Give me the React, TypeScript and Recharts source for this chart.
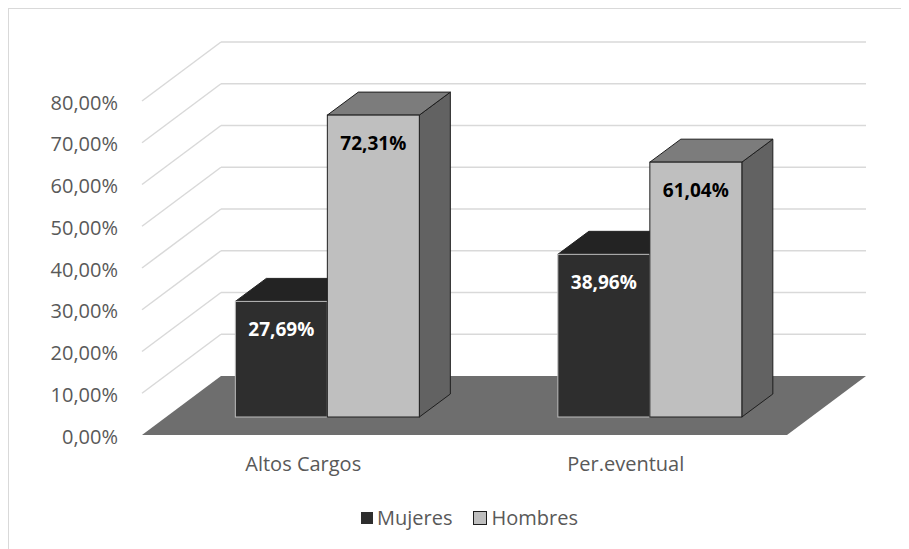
import { BarChart, Bar, XAxis, YAxis, CartesianGrid, Legend, LabelList } from 'recharts'

const CATEGORIES = ['Altos Cargos', 'Per.eventual']
const MUJERES = [27.69, 38.96]
const HOMBRES = [72.31, 61.04]
const Y_TICKS = [0, 10, 20, 30, 40, 50, 60, 70, 80]

const data = CATEGORIES.map((name, i) => ({ name, mujeres: MUJERES[i], hombres: HOMBRES[i] }))

const W = 909
const H = 549
const MARGIN = { top: 83, right: 98, left: 106, bottom: 102 }
const XAXIS_H = 30
const PLOT_BOTTOM = H - MARGIN.bottom - XAXIS_H

// depth offsets relative to the plane of the bar fronts
const FRONT = { dx: -24, dy: 18 }
const BACK = { dx: 55, dy: -41 }
const BAR_DEPTH = { dx: 31, dy: -23 }

const FONT = '"Open Sans", "DejaVu Sans", sans-serif'
const TEXT = '#595959'
const GRID = '#d9d9d9'

const fmt = (v: number) => `${v.toFixed(2).replace('.', ',')}%`

const SERIES = {
  mujeres: { front: '#2e2e2e', top: '#232323', side: '#1f1f1f', stroke: '#bdbdbd', label: '#ffffff' },
  hombres: { front: '#bfbfbf', top: '#7c7c7c', side: '#626262', stroke: '#1e1e1e', label: '#000000' },
}

function box(colors: typeof SERIES.mujeres) {
  return (props: any) => {
    const { x, y, width: w, height: h } = props
    const { dx, dy } = BAR_DEPTH
    const light = colors.stroke === '#bdbdbd'
    return (
      <g>
        <polygon
          points={`${x + w},${y} ${x + w + dx},${y + dy} ${x + w + dx},${y + h + dy} ${x + w},${y + h}`}
          fill={colors.side}
          stroke={light ? colors.side : colors.stroke}
          strokeWidth={1}
        />
        <polygon
          points={`${x},${y} ${x + dx},${y + dy} ${x + w + dx},${y + dy} ${x + w},${y}`}
          fill={colors.top}
          stroke={light ? colors.top : colors.stroke}
          strokeWidth={1}
        />
        <rect x={x} y={y} width={w} height={h} fill={colors.front} stroke={colors.stroke} strokeWidth={1} />
      </g>
    )
  }
}

function gridLine(props: any) {
  const { x1, x2, y1, index } = props
  if (Math.abs(y1 - PLOT_BOTTOM) < 1) {
    return (
      <polygon
        key={`floor-${index}`}
        points={`${x1 + FRONT.dx},${y1 + FRONT.dy} ${x2 + FRONT.dx},${y1 + FRONT.dy} ${x2 + BACK.dx},${y1 + BACK.dy} ${x1 + BACK.dx},${y1 + BACK.dy}`}
        fill="#6e6e6e"
      />
    )
  }
  return (
    <g key={`grid-${index}`}>
      <line x1={x1 + FRONT.dx} y1={y1 + FRONT.dy} x2={x1 + BACK.dx} y2={y1 + BACK.dy} stroke={GRID} strokeWidth={1.5} />
      <line x1={x1 + BACK.dx} y1={y1 + BACK.dy} x2={x2 + BACK.dx} y2={y1 + BACK.dy} stroke={GRID} strokeWidth={1.5} />
    </g>
  )
}

function YTick(props: any) {
  const { y, payload } = props
  return (
    <text
      x={MARGIN.left + 60 + FRONT.dx - 24}
      y={y + FRONT.dy + 1}
      textAnchor="end"
      dominantBaseline="central"
      fill={TEXT}
      fontSize={20}
      fontFamily={FONT}
    >
      {fmt(payload.value)}
    </text>
  )
}

function XTick(props: any) {
  const { x, payload } = props
  return (
    <text
      x={x + FRONT.dx}
      y={PLOT_BOTTOM + 46}
      textAnchor="middle"
      dominantBaseline="central"
      fill={TEXT}
      fontSize={20}
      fontFamily={FONT}
    >
      {payload.value}
    </text>
  )
}

function valueLabel(color: string) {
  return (props: any) => {
    const { x, y, width, value } = props
    return (
      <text
        x={x + width / 2}
        y={y + 28}
        textAnchor="middle"
        dominantBaseline="central"
        fill={color}
        fontSize={19}
        fontWeight="bold"
        fontFamily={FONT}
      >
        {fmt(value)}
      </text>
    )
  }
}

function LegendContent() {
  const items = [
    { name: 'Mujeres', fill: SERIES.mujeres.front, stroke: SERIES.mujeres.front, size: 12 },
    { name: 'Hombres', fill: SERIES.hombres.front, stroke: '#1e1e1e', size: 14 },
  ]
  return (
    <div style={{ display: 'flex', alignItems: 'center', gap: 21, fontFamily: FONT, fontSize: 20, color: TEXT }}>
      {items.map((it) => (
        <div key={it.name} style={{ display: 'flex', alignItems: 'center' }}>
          <span
            style={{
              display: 'inline-block',
              width: it.size,
              height: it.size,
              boxSizing: 'border-box',
              background: it.fill,
              border: `1.5px solid ${it.stroke}`,
              marginRight: 4,
            }}
          />
          <span>{it.name}</span>
        </div>
      ))}
    </div>
  )
}

export default function App() {
  return (
    <div
      style={{
        position: 'relative',
        width: 901,
        height: 541,
        boxSizing: 'border-box',
        borderTop: '1px solid #d9d9d9',
        borderLeft: '1px solid #d9d9d9',
        background: '#fff',
      }}
    >
      <div style={{ position: 'absolute', left: -9, top: -9 }}>
        <BarChart width={W} height={H} data={data} margin={MARGIN} barCategoryGap="21.5%" barGap={0}>
          <CartesianGrid vertical={false} horizontal={gridLine} />
          <XAxis dataKey="name" height={XAXIS_H} axisLine={false} tickLine={false} tick={XTick} interval={0} />
          <YAxis
            width={60}
            domain={[0, 80]}
            ticks={Y_TICKS}
            axisLine={false}
            tickLine={false}
            tick={YTick}
            interval={0}
          />
          <Legend
            layout="vertical"
            align="center"
            verticalAlign="middle"
            wrapperStyle={{ top: 504, left: 361, width: 'auto' }}
            content={LegendContent}
          />
          <Bar dataKey="mujeres" name="Mujeres" fill={SERIES.mujeres.front} shape={box(SERIES.mujeres)} isAnimationActive={false}>
            <LabelList dataKey="mujeres" content={valueLabel(SERIES.mujeres.label)} />
          </Bar>
          <Bar dataKey="hombres" name="Hombres" fill={SERIES.hombres.front} shape={box(SERIES.hombres)} isAnimationActive={false}>
            <LabelList dataKey="hombres" content={valueLabel(SERIES.hombres.label)} />
          </Bar>
        </BarChart>
      </div>
    </div>
  )
}
